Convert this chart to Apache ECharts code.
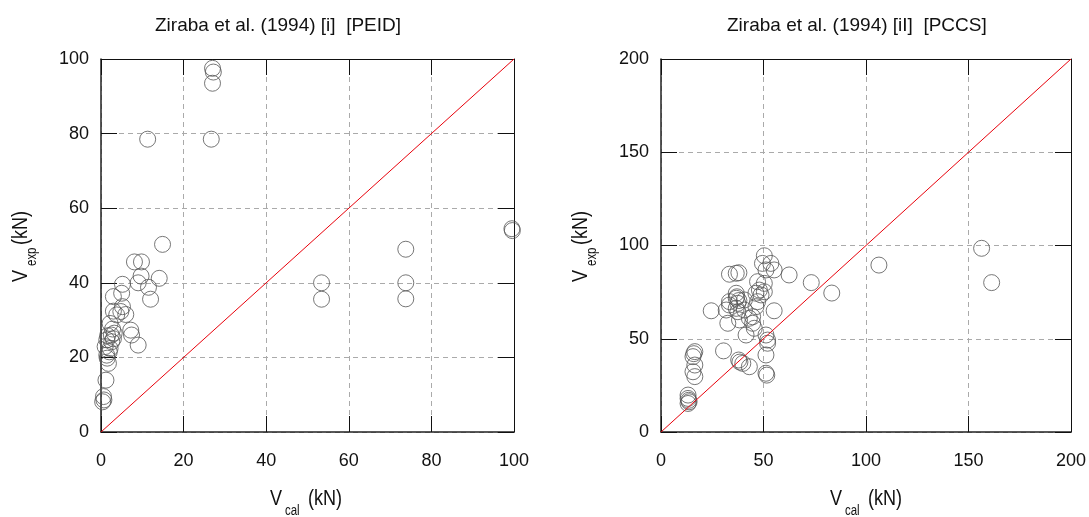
<!DOCTYPE html>
<html>
<head>
<meta charset="utf-8">
<script src="https://cdn.jsdelivr.net/npm/echarts@6/dist/echarts.min.js"></script>
<style>
  html, body { margin: 0; padding: 0; background: #fff; }
  #chart { width: 1089px; height: 517px; }
</style>
</head>
<body>
<div id="chart"></div>
<script>
// 左图 PEID：V_cal / V_exp (kN)
const peidCal = [27.0, 27.2, 27.0, 26.7, 11.3, 99.5, 99.6, 73.8, 73.8, 73.8, 53.4, 53.4,
  14.9, 8.1, 9.8, 9.7, 9.0, 14.1, 11.5, 12.0, 5.2, 5.0, 3.0, 5.2, 4.8, 6.0, 3.0, 3.8,
  2.2, 2.8, 7.2, 7.4, 9.0, 2.5, 1.4, 2.6, 1.0, 2.2, 1.4, 1.8, 1.2, 0.6, 0.7, 0.4,
  1.6, 3.0, 2.0, 1.5, 3.2];
const peidExp = [97.5, 96.5, 93.5, 78.5, 78.5, 54.5, 54.0, 49.0, 40.0, 35.7, 40.0, 35.6,
  50.3, 45.6, 45.6, 41.8, 40.0, 41.2, 38.8, 35.6, 39.6, 37.2, 36.3, 33.6, 32.3, 31.5, 32.4, 31.4,
  29.1, 27.6, 27.3, 26.0, 23.3, 26.0, 24.7, 24.2, 22.9, 22.4, 20.6, 18.4, 13.9, 9.5, 8.6, 8.1,
  25.8, 25.0, 21.5, 19.8, 26.5];

// 右图 PCCS
const pccsCal = [50.4, 49.5, 53.6, 55.2, 51.2, 62.5, 33.4, 36.7, 38.0,
  47.1, 50.4, 48.0, 46.3, 48.8, 47.1, 46.3, 50.4,
  36.7, 37.5, 36.7, 37.5, 33.4, 33.4, 36.7, 37.0, 38.0,
  24.5, 40.7, 40.7, 55.2, 31.8,
  32.6, 38.3, 44.7, 44.7, 45.5, 43.1,
  41.5, 51.2, 52.0, 52.0, 51.2, 51.2, 51.6,
  30.5, 37.9, 39.9, 43.1, 38.5,
  16.5, 15.6, 16.5, 15.6, 16.5, 16.0,
  13.2, 13.2, 13.7, 13.2, 13.5,
  73.3, 83.3, 106.3, 156.4, 161.3];
const pccsExp = [94.5, 90.4, 90.4, 86.9, 86.9, 84.2, 84.6, 85.1, 85.4,
  80.6, 79.7, 76.1, 74.4, 73.5, 69.9, 67.2, 75.2,
  71.7, 69.0, 66.3, 64.5, 68.1, 69.9, 74.4, 72.5, 70.5,
  65.0, 65.4, 70.8, 65.0, 65.4,
  58.3, 60.1, 61.8, 58.3, 55.6, 61.0,
  52.0, 52.0, 49.3, 47.6, 41.3, 31.5, 30.5,
  43.5, 38.6, 36.8, 35.0, 37.5,
  43.1, 40.4, 35.9, 32.3, 29.7, 42.0,
  19.8, 18.0, 16.2, 15.3, 17.0,
  80.1, 74.5, 89.5, 98.5, 80.1];

const peidRange = [0, 100];
const pccsRange = [0, 200];
const peidStep = 20;
const pccsStep = 50;
const titles = ['Ziraba et al. (1994) [i]  [PEID]', 'Ziraba et al. (1994) [iI]  [PCCS]'];

const chart = echarts.init(document.getElementById('chart'));

const tickFont = '"Liberation Sans", Arial, sans-serif';
const grids = [
  { left: 101, top: 59, width: 413, height: 373 },
  { left: 661, top: 59, width: 413, height: 373 }
];

// 主轴（有刻度标签）
const mainAxis = (gridIndex, range, step, position) => ({
  type: 'value',
  gridIndex,
  position,
  min: range[0],
  max: range[1],
  interval: step,
  axisLine: { show: true, onZero: false, lineStyle: { color: '#222', width: 1.5 } },
  axisTick: { show: true, inside: true, length: 16, lineStyle: { color: '#111', width: 1 } },
  axisLabel: {
    show: true,
    margin: position === 'bottom' ? 20 : 12,
    fontSize: 18,
    fontFamily: tickFont,
    color: '#111'
  },
  splitLine: { show: true, lineStyle: { color: '#aaa', type: [5, 4], width: 1 } }
});

// 对面的镜像轴（只有刻度）
const mirrorAxis = (gridIndex, range, step, position) => ({
  type: 'value',
  gridIndex,
  position,
  min: range[0],
  max: range[1],
  interval: step,
  axisLine: { show: true, onZero: false, lineStyle: { color: '#111', width: 1 } },
  axisTick: { show: true, inside: true, length: 16, lineStyle: { color: '#111', width: 1 } },
  axisLabel: { show: false },
  splitLine: { show: false }
});

const toPoints = (xs, ys) => xs.map((x, i) => [x, ys[i]]);

const scatter = (idx, xs, ys) => ({
  type: 'scatter',
  xAxisIndex: idx,
  yAxisIndex: idx,
  symbol: 'circle',
  symbolSize: 16,
  itemStyle: { color: 'rgba(0,0,0,0)', borderColor: '#555', borderWidth: 1 },
  data: toPoints(xs, ys),
  z: 2
});

const diagonal = (idx, range) => ({
  type: 'line',
  xAxisIndex: idx,
  yAxisIndex: idx,
  symbol: 'none',
  silent: true,
  lineStyle: { color: '#e8000b', width: 1 },
  data: [[range[0], range[0]], [range[1], range[1]]],
  z: 3
});

// 没有窄体字，用横向缩放模拟
const nameFont = '"Liberation Sans", Arial, sans-serif';
const txt = (text, x, y, size) => ({
  type: 'text',
  x, y,
  scaleX: 0.82,
  style: {
    text,
    fill: '#111',
    font: size + 'px ' + nameFont,
    textAlign: 'left', align: 'left',
    textVerticalAlign: 'middle', verticalAlign: 'middle'
  }
});

// 轴名（带下标）
const xName = (ox) => ({
  type: 'group',
  children: [
    txt('V', ox + 270, 499, 22),
    txt('cal', ox + 285, 511, 14),
    txt('(kN)', ox + 308, 499, 22)
  ]
});
const yName = (ox) => ({
  type: 'group',
  x: ox + 20.5,
  y: 244,
  rotation: Math.PI / 2,
  children: [
    txt('V', -38, 0, 22),
    txt('exp', -22, 12, 14),
    txt('(kN)', -1, 0, 22)
  ]
});

const option = {
  backgroundColor: '#fff',
  animation: false,
  title: [
    { text: titles[0], left: 150, top: 11, textStyle: { fontSize: 19, fontWeight: 'normal', color: '#111', fontFamily: '"Liberation Sans", Arial, sans-serif' } },
    { text: titles[1], left: 722, top: 11, textStyle: { fontSize: 19, fontWeight: 'normal', color: '#111', fontFamily: '"Liberation Sans", Arial, sans-serif' } }
  ],
  grid: grids,
  xAxis: [
    mainAxis(0, peidRange, peidStep, 'bottom'),
    mirrorAxis(0, peidRange, peidStep, 'top'),
    mainAxis(1, pccsRange, pccsStep, 'bottom'),
    mirrorAxis(1, pccsRange, pccsStep, 'top')
  ],
  yAxis: [
    mainAxis(0, peidRange, peidStep, 'left'),
    mirrorAxis(0, peidRange, peidStep, 'right'),
    mainAxis(1, pccsRange, pccsStep, 'left'),
    mirrorAxis(1, pccsRange, pccsStep, 'right')
  ],
  series: [
    scatter(0, peidCal, peidExp),
    diagonal(0, peidRange),
    scatter(2, pccsCal, pccsExp),
    diagonal(2, pccsRange)
  ],
  graphic: [xName(0), yName(0), xName(560), yName(560)]
};

chart.setOption(option);

window.addEventListener('resize', function () {
  chart.resize();
});
</script>
</body>
</html>
